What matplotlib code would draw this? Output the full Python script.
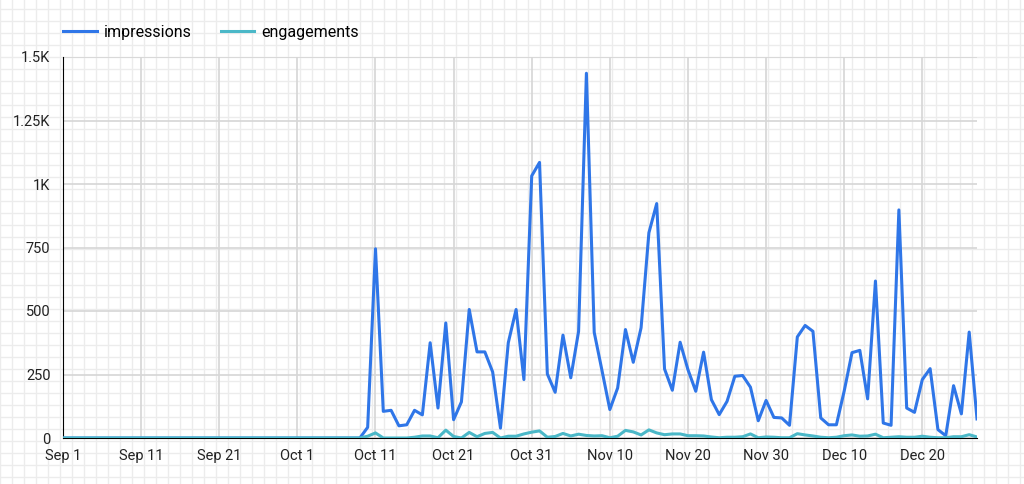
import numpy as np
import pandas as pd
import matplotlib
matplotlib.use('Agg')
import matplotlib.pyplot as plt
from matplotlib.lines import Line2D

# --- Data (daily, Sep 1 .. Dec 27) ---
start_date = "2023-09-01"

impressions = [
    0, 0, 0, 0, 0, 0, 0, 0, 0, 0,
    0, 0, 0, 0, 0, 0, 0, 0, 0, 0,
    0, 0, 0, 0, 0, 0, 0, 0, 0, 0,
    0, 0, 0, 0, 0, 0, 0, 0,
    0, 42, 745, 105, 109, 48, 52, 109, 91, 375,
    118, 453, 72, 142, 506, 339, 339, 260, 39, 375,
    506, 230, 1032, 1085, 252, 180, 405, 237, 420, 1436,
    416, 265, 112, 197, 427, 298, 434, 808, 923, 272,
    188, 377, 269, 184, 338, 151, 92, 144, 243, 246,
    200, 68, 148, 81, 79, 50, 398, 443, 420, 79,
    52, 52, 185, 336, 345, 154, 618, 59, 50, 898,
    118, 101, 230, 273, 33, 9, 206, 95, 417, 75,
]

engagements = [
    0, 0, 0, 0, 0, 0, 0, 0, 0, 0,
    0, 0, 0, 0, 0, 0, 0, 0, 0, 0,
    0, 0, 0, 0, 0, 0, 0, 0, 0, 0,
    0, 0, 0, 0, 0, 0, 0, 0,
    0, 7, 20, 0, 0, 0, 0, 3, 8, 8,
    1, 31, 6, 0, 22, 5, 18, 22, 0, 7,
    7, 16, 23, 28, 3, 6, 18, 8, 15, 10,
    8, 9, 1, 7, 30, 24, 12, 32, 20, 13,
    16, 16, 9, 9, 8, 4, 1, 3, 3, 5,
    16, 1, 4, 3, 1, 1, 17, 12, 8, 3,
    1, 3, 9, 12, 7, 8, 15, 1, 3, 5,
    3, 3, 7, 3, 1, 1, 5, 5, 13, 4,
]

x_tick_labels = ["Sep 1", "Sep 11", "Sep 21", "Oct 1", "Oct 11", "Oct 21",
                 "Oct 31", "Nov 10", "Nov 20", "Nov 30", "Dec 10", "Dec 20"]
y_ticks = [0, 250, 500, 750, 1000, 1250, 1500]
y_tick_labels = ["0", "250", "500", "750", "1K", "1.25K", "1.5K"]

dates = pd.date_range(start_date, periods=len(impressions), freq="D")
x_ticks = pd.date_range(start_date, periods=len(x_tick_labels), freq="10D")

plt.rcParams['font.family'] = ['Roboto', 'DejaVu Sans']

fig = plt.figure(figsize=(10.24, 4.84), dpi=100)

# --- graph-paper page background ---
bg = fig.add_axes([0, 0, 1, 1], zorder=0)
bg.set_xlim(0, 1024)
bg.set_ylim(484, 0)
bg.axis('off')
for gx in np.arange(0, 1025, 12):
    bg.axvline(gx, color='#ececec', lw=1)
for gy in np.arange(8.5, 484, 12):
    bg.axhline(gy, color='#ececec', lw=1)

# --- main chart ---
ax = fig.add_axes([63 / 1024, 1 - 438 / 484, (977 - 63) / 1024, (438 - 57) / 484], zorder=1)
ax.set_facecolor('none')

ax.plot(dates, impressions, color='#2f76e8', lw=2.2, zorder=3, label='impressions')
ax.plot(dates, engagements, color='#4bb8c8', lw=2.2, zorder=4, label='engagements')

ax.set_xlim(dates[0], dates[-1])
ax.set_ylim(0, 1500)
ax.set_xticks(x_ticks)
ax.set_xticklabels(x_tick_labels)
ax.set_yticks(y_ticks)
ax.set_yticklabels(y_tick_labels)
ax.tick_params(length=0, labelsize=10.5, colors='#222222', pad=8)
ax.tick_params(axis='y', pad=9)

ax.grid(True, color='#d6d6d6', lw=1.2)
ax.set_axisbelow(True)
for s in ['top', 'right']:
    ax.spines[s].set_visible(False)
ax.spines['left'].set_color('black')
ax.spines['bottom'].set_color('black')
ax.spines['bottom'].set_zorder(2)

handles = [Line2D([], [], color='#2f76e8', lw=2.2),
           Line2D([], [], color='#4bb8c8', lw=2.2)]
fig.legend(handles, ['impressions', 'engagements'], loc='center left',
           bbox_to_anchor=(49 / 1024, 1 - 32 / 484), ncol=2, frameon=False,
           fontsize=11.5, handlelength=2.1, handletextpad=0.45, columnspacing=1.8)

plt.savefig("out.png", dpi=100)
